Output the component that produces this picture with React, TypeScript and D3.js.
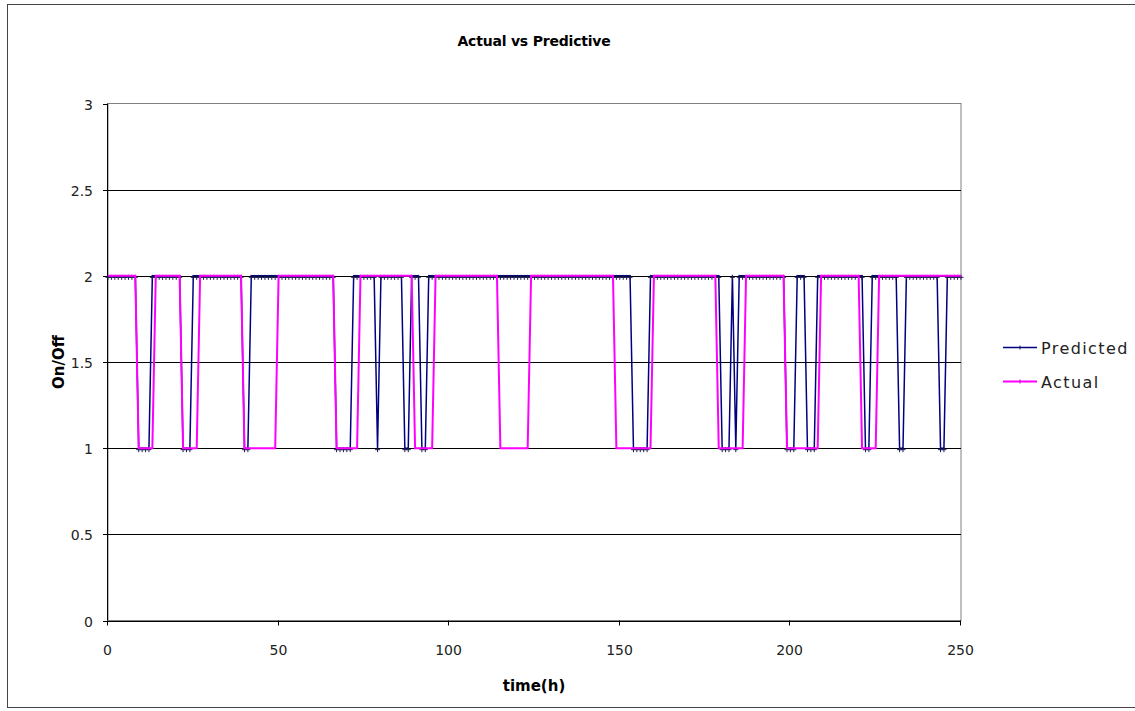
import React, { useEffect, useRef } from "react";
import * as d3 from "d3";

// x categories: hours 0..250
const hourStart = 0;
const hourEnd = 250;
// hours (inclusive ranges) where each series reads "1" (off); otherwise it reads "2" (on)
const actualOffRanges: [number, number][] = [
  [9, 13], [22, 26], [40, 49], [67, 73], [90, 95], [115, 123],
  [149, 159], [179, 186], [199, 208], [221, 225],
];
const predictedOffRanges: [number, number][] = [
  [9, 12], [22, 24], [40, 41], [67, 71], [79, 79], [87, 88], [92, 93],
  [154, 158], [180, 182], [184, 184], [199, 201], [205, 207],
  [222, 223], [232, 233], [244, 245],
];
const onValue = 2;
const offValue = 1;
const yTicks = [0, 0.5, 1, 1.5, 2, 2.5, 3];
const yTickLabels = ["0", "0.5", "1", "1.5", "2", "2.5", "3"];
const xTicks = [0, 50, 100, 150, 200, 250];
const seriesNames = ["Predicted", "Actual"];
const chartTitle = "Actual vs Predictive";
const xTitle = "time(h)";
const yTitle = "On/Off";

function buildSeries(ranges: [number, number][]) {
  return d3.range(hourStart, hourEnd + 1).map((h) => ({
    x: h,
    y: ranges.some(([a, b]) => h >= a && h <= b) ? offValue : onValue,
  }));
}
const predicted = buildSeries(predictedOffRanges);
const actual = buildSeries(actualOffRanges);

const W = 1135, H = 711;
const plot = { left: 108, right: 961, top: 103.5, bottom: 620.5 };
const font = "'DejaVu Sans', Verdana, sans-serif";
const navy = "#000080";
const magenta = "#FF00FF";

export default function App() {
  const ref = useRef<SVGSVGElement>(null);
  useEffect(() => {
    const svg = d3.select(ref.current);
    svg.selectAll("*").remove();
    const x = d3.scaleLinear().domain([0, 250]).range([plot.left, plot.right]);
    const y = d3.scaleLinear().domain([0, 3]).range([plot.bottom, plot.top]);

    svg.append("rect").attr("x", 0).attr("y", 0).attr("width", W).attr("height", H).attr("fill", "#fff");
    // chart border
    svg.append("rect").attr("x", 7.5).attr("y", 4.5).attr("width", W + 10).attr("height", 703)
      .attr("fill", "none").attr("stroke", "#444").attr("stroke-width", 1);

    // title
    svg.append("text").attr("x", 534).attr("y", 46).attr("text-anchor", "middle")
      .attr("font-family", font).attr("font-weight", "bold").attr("font-size", 14)
      .attr("letter-spacing", -0.2).text(chartTitle);

    // plot border
    svg.append("rect").attr("x", plot.left).attr("y", plot.top)
      .attr("width", plot.right - plot.left).attr("height", plot.bottom - plot.top)
      .attr("fill", "none").attr("stroke", "#808080").attr("stroke-width", 1);

    // gridlines
    svg.append("g").selectAll("line").data(yTicks.filter((t) => t > 0 && t < 3)).join("line")
      .attr("x1", plot.left).attr("x2", plot.right)
      .attr("y1", (d) => Math.round(y(d)) + 0.5).attr("y2", (d) => Math.round(y(d)) + 0.5)
      .attr("stroke", "#000").attr("stroke-width", 1);

    // axes
    svg.append("line").attr("x1", plot.left - 0.5).attr("x2", plot.left - 0.5)
      .attr("y1", plot.top).attr("y2", plot.bottom).attr("stroke", "#000");
    svg.append("line").attr("x1", plot.left).attr("x2", plot.right)
      .attr("y1", Math.round(y(0)) + 0.5).attr("y2", Math.round(y(0)) + 0.5).attr("stroke", "#000");

    // y ticks & labels
    const yg = svg.append("g");
    yTicks.forEach((t, i) => {
      const yy = Math.round(y(t)) + 0.5;
      yg.append("line").attr("x1", plot.left - 5).attr("x2", plot.left).attr("y1", yy).attr("y2", yy).attr("stroke", "#000");
      yg.append("text").attr("x", 93).attr("y", yy + 5).attr("text-anchor", "end")
        .attr("font-family", font).attr("font-size", 14).attr("fill", "#222").text(yTickLabels[i]);
    });
    // x ticks & labels
    const xg = svg.append("g");
    xTicks.forEach((t) => {
      const xx = Math.round(x(t)) - 0.5;
      xg.append("line").attr("x1", xx).attr("x2", xx).attr("y1", plot.bottom).attr("y2", plot.bottom + 5).attr("stroke", "#000");
      xg.append("text").attr("x", xx).attr("y", 655).attr("text-anchor", "middle")
        .attr("font-family", font).attr("font-size", 14).attr("fill", "#222").text(String(t));
    });

    // axis titles
    svg.append("text").attr("x", 534).attr("y", 691).attr("text-anchor", "middle")
      .attr("font-family", font).attr("font-weight", "bold").attr("font-size", 15).text(xTitle);
    svg.append("text").attr("transform", "translate(64,362) rotate(-90)").attr("text-anchor", "middle")
      .attr("font-family", font).attr("font-weight", "bold").attr("font-size", 15).text(yTitle);

    const line = d3.line<{ x: number; y: number }>().x((d) => x(d.x)).y((d) => y(d.y));
    const plus = "M-2.5,0H2.5M0,-2.5V2.5";

    // predicted
    svg.append("path").datum(predicted).attr("d", line).attr("fill", "none")
      .attr("stroke", navy).attr("stroke-width", 1.5);
    svg.append("g").selectAll("path").data(predicted).join("path")
      .attr("transform", (d) => `translate(${x(d.x)},${y(d.y) + 1.5})`)
      .attr("d", plus).attr("stroke", "#1a1a50").attr("stroke-width", 1);
    // actual
    svg.append("path").datum(actual).attr("d", line).attr("fill", "none")
      .attr("stroke", magenta).attr("stroke-width", 2);

    // legend
    const lg = svg.append("g");
    const legendY = [347, 381];
    const colors = [navy, magenta];
    seriesNames.forEach((name, i) => {
      const ly = legendY[i] + 0.5;
      lg.append("line").attr("x1", 1003).attr("x2", 1037).attr("y1", ly).attr("y2", ly)
        .attr("stroke", colors[i]).attr("stroke-width", i === 0 ? 1.5 : 2);
      lg.append("path").attr("transform", `translate(1020,${ly})`).attr("d", "M0,-2V2")
        .attr("stroke", i === 0 ? "#1a1a50" : "#c000c0").attr("stroke-width", 1);
      lg.append("text").attr("x", 1041).attr("y", ly + 6).attr("font-family", font)
        .attr("font-size", 16).attr("letter-spacing", 1.4).attr("fill", "#222").text(name);
    });
  }, []);
  return (
    <svg ref={ref} width={W} height={H} style={{ position: "absolute", left: 0, top: 0, display: "block" }} />
  );
}
